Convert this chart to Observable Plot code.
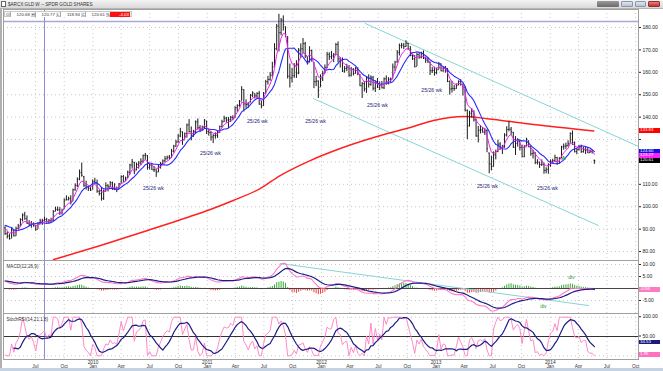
<!DOCTYPE html>
<html><head><meta charset="utf-8">
<script src="https://cdn.jsdelivr.net/npm/d3@7"></script>
<script src="https://cdn.jsdelivr.net/npm/@observablehq/plot@0.6"></script>
<style>
body{margin:0;background:#fff;}
#root{position:relative;width:663px;height:371px;overflow:hidden;background:#fff;font-family:"Liberation Sans",Arial,sans-serif;}
.abs{position:absolute;}
.lg span{display:inline-block;height:5px;line-height:5px;vertical-align:top;}
</style></head>
<body><div id="root"></div>
<script>
// ---------------- DATA ----------------
const warmupCloses = [79.5,74.0,85.0,86.7,81.0,83.5,76.6,71.5,70.8,72.9,72.4,78.0,79.6,73.8,80.6,83.4,85.6,86.5,83.0,82.2,88.0,90.1,89.5,92.3,97.8,92.0,92.2,91.0,93.2,90.6];
const firstWeek = "2009-03-26";
const closes = [
88.0,86.9,85.7,89.6,87.0,90.2,91.4,94.3,96.3,94.6,
92.6,91.9,92.5,91.5,89.9,92.4,93.6,93.9,94.3,93.3,
93.9,93.8,97.9,98.8,98.6,97.3,98.4,103.0,103.1,103.6,
102.0,107.6,109.5,112.3,115.2,114.0,109.6,108.8,108.3,107.3,
111.4,110.7,106.9,105.9,103.8,106.9,109.4,108.9,110.7,107.9,
108.1,107.8,110.2,113.5,111.4,112.9,115.4,118.6,120.2,115.8,
118.9,119.5,120.3,122.8,123.1,117.6,118.6,116.5,116.5,115.5,
117.8,119.2,120.5,121.4,122.1,121.9,124.8,127.1,128.9,131.6,
133.6,129.5,132.6,136.5,133.5,131.9,133.0,137.9,135.3,134.6,
135.4,138.7,133.6,133.1,131.1,131.8,131.9,133.2,135.9,137.9,
139.5,138.7,138.8,139.9,139.6,144.2,145.2,147.0,152.4,145.9,
145.6,146.1,149.7,150.9,149.5,150.6,145.8,145.1,150.6,155.8,
156.8,158.7,162.4,170.6,180.6,177.7,183.3,181.3,176.9,158.3,
157.5,158.5,163.1,159.7,169.9,170.5,172.8,167.4,164.0,169.7,
166.1,155.8,156.1,152.0,157.1,159.5,162.2,168.0,167.0,167.3,
167.9,172.4,166.0,165.2,160.6,161.7,162.1,158.7,161.4,159.5,
161.6,159.2,154.0,154.9,152.6,157.4,154.6,157.8,152.9,155.9,
153.3,154.3,153.1,157.1,155.7,156.9,156.8,162.4,164.6,168.9,
171.9,172.1,171.5,173.0,170.4,167.5,166.0,162.5,167.9,166.7,
168.5,166.3,165.5,164.6,160.7,160.9,159.9,161.2,163.8,160.7,
161.7,161.5,155.9,152.6,152.8,152.7,154.2,155.9,154.6,153.3,
143.1,136.1,141.7,142.5,138.8,131.6,134.1,134.3,133.3,134.0,
125.9,119.1,117.9,123.2,124.7,128.0,126.3,126.5,132.0,134.5,
134.6,133.5,126.6,128.3,129.2,126.5,122.3,126.7,130.1,126.7,
123.7,124.0,119.8,120.0,118.8,119.0,116.2,116.7,118.8,120.3,
120.6,122.0,119.3,121.6,126.7,127.0,127.3,128.1,132.7,128.7,
124.6,125.5,126.8,124.6,125.4,125.3,124.1,124.6,124.6,120.61];
const highs = [
91.0,88.8,87.6,90.6,89.8,90.9,92.1,94.6,96.8,97.5,
95.9,93.8,93.4,92.8,91.8,92.8,94.4,94.4,95.3,94.8,
94.3,94.9,98.3,99.8,99.9,99.6,98.9,103.5,104.9,104.3,
104.9,107.9,110.2,112.9,116.4,119.5,113.5,111.4,109.0,108.8,
112.0,112.7,111.9,107.3,108.5,107.4,110.7,109.8,111.2,111.0,
110.3,108.8,110.4,113.8,113.9,113.2,115.9,119.0,121.1,119.8,
119.5,120.1,121.4,123.1,123.8,122.8,119.3,118.9,117.9,116.5,
118.6,119.8,120.9,122.4,122.6,122.9,125.6,127.4,129.6,132.2,
135.0,133.4,132.9,136.9,138.9,135.6,134.1,138.3,139.2,136.2,
136.0,138.9,138.2,134.5,133.4,132.2,133.0,133.6,136.0,138.6,
140.4,139.9,139.8,140.3,140.6,144.6,145.5,147.4,153.6,152.2,
147.7,146.5,150.1,151.3,150.4,150.9,151.5,147.0,151.0,156.4,
158.2,159.9,164.5,172.8,181.4,185.9,184.0,185.2,180.3,175.9,
163.7,161.8,163.9,165.2,170.6,172.7,175.1,173.4,166.9,171.4,
169.9,164.4,158.2,156.2,158.9,160.5,163.3,168.9,168.7,169.3,
168.4,172.9,173.6,166.6,166.4,162.6,163.6,163.0,162.2,161.6,
162.1,162.1,159.0,155.4,155.8,157.8,158.9,158.4,158.1,156.2,
157.2,155.7,155.9,157.5,158.4,157.6,157.4,163.7,164.9,169.7,
172.6,172.9,172.9,174.1,172.9,171.5,167.8,167.5,168.6,168.8,
169.0,169.5,166.8,166.7,164.6,162.1,162.3,161.9,164.4,163.8,
162.5,162.6,161.6,156.2,155.9,154.1,154.8,156.2,156.7,154.8,
153.6,143.2,142.6,143.8,142.8,139.1,135.8,136.2,135.4,135.0,
134.4,124.0,122.6,124.5,125.3,129.7,128.6,127.4,132.6,135.7,
138.1,135.4,133.2,131.3,130.4,129.6,127.5,127.3,130.6,129.4,
127.1,125.2,124.1,121.0,119.9,120.9,119.5,117.4,119.2,120.9,
121.2,123.0,122.0,121.9,127.0,128.0,128.4,129.4,133.0,133.8,
128.9,125.9,127.4,127.5,126.5,126.7,126.4,125.3,125.1,120.77];
const lows = [
87.2,85.6,85.1,85.8,86.5,86.8,89.7,91.0,93.2,94.0,
92.1,91.2,90.4,90.9,89.0,89.9,91.9,91.7,93.5,92.7,
92.2,92.9,93.4,97.7,97.9,96.1,96.3,98.9,102.7,102.6,
100.8,102.4,106.9,108.6,111.6,113.2,108.6,107.4,106.8,106.8,
107.6,110.0,106.0,104.8,102.5,102.8,106.6,106.6,108.6,107.3,
107.2,106.3,107.6,110.1,110.9,111.3,112.5,114.2,116.8,114.3,
116.1,116.8,118.3,119.5,120.7,116.3,116.4,116.2,115.3,113.1,
115.2,116.8,118.8,119.6,120.8,120.9,121.6,124.0,126.5,128.3,
130.8,127.4,129.8,130.6,133.0,129.4,131.0,132.6,134.3,133.1,
134.1,134.7,132.2,131.5,129.3,128.2,130.2,130.5,132.8,135.1,
137.6,137.3,134.9,137.6,138.4,139.5,142.1,144.4,147.1,142.3,
143.7,143.9,146.4,148.7,148.1,148.3,145.3,143.7,144.9,150.2,
154.3,156.0,157.8,162.3,169.6,169.1,176.3,178.4,175.5,157.0,
153.0,155.2,157.3,157.3,158.9,166.2,168.3,166.1,163.2,164.3,
164.5,152.7,153.6,148.3,153.3,155.9,159.4,161.6,165.3,165.6,
164.3,167.6,164.2,161.9,159.9,159.6,160.3,157.8,157.9,158.4,
159.2,158.5,153.6,148.3,151.2,150.6,153.0,153.8,151.7,151.0,
152.8,151.9,152.6,152.3,154.2,154.4,155.3,157.0,160.3,164.1,
167.3,170.5,170.2,171.1,170.0,167.0,165.3,162.0,162.6,165.8,
166.0,165.7,164.0,164.0,158.6,159.5,158.3,158.9,161.1,160.2,
160.0,159.6,155.4,149.8,150.7,151.5,152.4,154.1,153.8,149.4,
142.3,130.0,135.6,139.6,137.8,131.0,128.5,132.5,132.8,131.8,
124.1,114.7,116.0,117.7,120.9,124.1,125.2,123.3,126.2,131.1,
133.4,131.9,126.0,122.9,126.6,124.9,122.0,121.9,126.7,126.4,
122.5,121.3,118.8,118.6,117.1,118.0,114.5,114.7,114.5,117.6,
118.9,119.9,118.5,119.1,121.5,125.2,125.6,126.6,128.3,127.4,
124.0,123.2,124.8,123.8,123.9,123.3,123.7,123.8,123.5,118.94];

// long moving average (red)
const longMADates  = ["2009-08-28","2010-01-25","2010-07-03","2010-10-29","2011-01-11","2011-03-25","2011-06-19","2011-08-22","2011-11-26","2012-03-01","2012-07-30","2012-10-11","2012-12-24","2013-03-30","2013-06-14","2013-11-08","2014-05-20"];
const longMAValues = [76.4,82.7,89.8,95.2,98.8,102.8,108.1,113.9,120.6,126.0,132.7,135.4,138.5,140.3,139.3,136.7,133.83];

// trend lines
const upperChannelDates = ["2012-05-20","2014-10-10"], upperChannelValues = [181.8,126.9];
const lowerChannelDates = ["2011-12-06","2014-06-04"], lowerChannelValues = [148.3,91.6];
const macdTrendDates = ["2011-08-22","2014-05-03"], macdTrendValues = [10.4,-7.1];
const markerDate = "2009-07-30";
const levelLine = 182.7;

// annotations
const waveLabelDates  = ["2010-07-13","2011-01-11","2011-06-10","2011-12-13","2012-06-28","2012-12-18","2013-06-14","2013-12-23"];
const waveLabelPrices = [108.1,123.75,138.0,138.0,145.1,151.8,109.0,108.1];
const waveLabelText = "25/26 wk";
const signalLabelDate = "2014-02-12", signalLabelPrice = 121.9, signalLabelText = "A";
const divLabelDates = ["2014-03-10","2013-12-10"], divLabelValues = [4.6,-7.5];

// axes (labels hidden behind value tags in the reference are left out)
const priceTicks = [80,90,100,110,120,130,140,150,160,170,180];
const priceTickLabels = [80,90,100,110,140,150,160,170,180];
const macdTicks = [-5,5,10];
const stochTicks = [50,100];
const dateTicks = ["2009-07-01","2009-10-01","2010-01-01","2010-04-01","2010-07-01","2010-10-01","2011-01-01","2011-04-01","2011-07-01","2011-10-01","2012-01-01","2012-04-01","2012-07-01","2012-10-01","2013-01-01","2013-04-01","2013-07-01","2013-10-01","2014-01-01","2014-04-01","2014-07-01","2014-10-01"];
const dateTickLabels = ["Jul","Oct","2010\nJan","Apr","Jul","Oct","2011\nJan","Apr","Jul","Oct","2012\nJan","Apr","Jul","Oct","2013\nJan","Apr","Jul","Oct","2014\nJan","Apr","Jul","Oct"];
const xDomain = ["2009-03-21","2014-10-10"];

// right-edge value tags
const priceTagValues = [133.83,124.60,123.27,120.61];
const priceTagColors = ["#ff0000","#1010e0","#ff20ff","#000000"];
const stochTagValues = [34.53,1.95];
const stochTagColors = ["#1a1a80","#ff70c0"];
const title = "$ARCX:GLD W -- SPDR GOLD SHARES";
const legendNames = ["O","H","L","C"];
const legendValues = ["120.68","120.77","118.94","120.61"];
const legendChange = "-4.03";

// ---------------- BUILD ----------------
const DAY = 864e5;
const P = s => new Date(s + "T00:00:00Z");
const t0 = P(firstWeek);
const W = warmupCloses.length;
const all = warmupCloses.concat(closes);

function sma(a,n){return a.map((_,i)=> i<n-1 ? NaN : d3.mean(a.slice(i-n+1,i+1)));}
function ema(a,n){const k=2/(n+1);let p=a[0];return a.map((v,i)=> (p = i===0 ? v : v*k + p*(1-k)));}
function rsi(a,n){const out=a.map(()=>NaN);let g=0,l=0;
  for(let i=1;i<=n;i++){const d=a[i]-a[i-1]; if(d>0) g+=d; else l-=d;}
  g/=n; l/=n; out[n]=100-100/(1+g/Math.max(l,1e-9));
  for(let i=n+1;i<a.length;i++){const d=a[i]-a[i-1]; g=(g*(n-1)+Math.max(d,0))/n; l=(l*(n-1)+Math.max(-d,0))/n; out[i]=100-100/(1+g/Math.max(l,1e-9));}
  return out;}

const sma10 = sma(all,10), ema5 = ema(all,5);
const e12 = ema(all,12), e26 = ema(all,26);
const macdAll = all.map((_,i)=>e12[i]-e26[i]);
const sigAll = ema(macdAll,9);
const r = rsi(all,14);
const stochAll = r.map((v,i)=>{ if(i<27) return NaN; const w=r.slice(i-13,i+1); const lo=d3.min(w), hi=d3.max(w); return hi-lo<1e-9?50:(v-lo)/(hi-lo)*100;});
const stochSig = stochAll.map((_,i)=>{const w=stochAll.slice(Math.max(0,i-7),i+1); return w.length<8||w.some(isNaN)?NaN:d3.mean(w);});

const bars = closes.map((c,i)=>{
  const prev = all[W+i-1];
  const date = new Date(+t0 + i*7*DAY);
  return {date, dL:new Date(+date-3*DAY), dR:new Date(+date+3*DAY), close:c, high:highs[i], low:lows[i],
    open: Math.min(highs[i], Math.max(lows[i], prev)),
    blue: sma10[W+i], pink: ema5[W+i], macd: macdAll[W+i], sig: sigAll[W+i], hist: macdAll[W+i]-sigAll[W+i],
    st: stochAll[W+i], stS: stochSig[W+i]};
});
const longMA = longMADates.map((d,i)=>({date:P(d), v:longMAValues[i]}));
const upper = upperChannelDates.map((d,i)=>({date:P(d), v:upperChannelValues[i]}));
const lower = lowerChannelDates.map((d,i)=>({date:P(d), v:lowerChannelValues[i]}));
const mTrend = macdTrendDates.map((d,i)=>({date:P(d), v:macdTrendValues[i]}));
const waves = waveLabelDates.map((d,i)=>({date:P(d), v:waveLabelPrices[i]}));
const divs = divLabelDates.map((d,i)=>({date:P(d), v:divLabelValues[i]}));
const dTicks = dateTicks.map(P);

const FONT = '"Liberation Sans", Arial, sans-serif';
const X = {type:"utc", domain:xDomain.map(P), axis:null};
const common = {width:663, marginLeft:3, marginRight:25, marginTop:0,
  style:{fontFamily:FONT, fontSize:"5px", background:"transparent", overflow:"visible", color:"#222"}};
const grid = dTicks;
const teal = "#88d4d4";
const tickFmt = d => d.toFixed(2);

const root = document.getElementById("root");
function place(svg, top){const d=document.createElement("div"); d.className="abs"; d.style.left="0px"; d.style.top=top+"px"; d.appendChild(svg); root.appendChild(d);}

// price panel
const PT = 9;
const price = Plot.plot({...common, height:251, marginBottom:0, x:X,
  y:{domain:[76.0,188.04], axis:null},
  marks:[
    Plot.ruleY(priceTicks,{stroke:"#c8c8c8", strokeDasharray:"1,3"}),
    Plot.ruleX(grid,{stroke:"#c8c8c8", strokeDasharray:"1,3"}),
    Plot.ruleY([levelLine],{stroke:"#a8a8dc", strokeWidth:1.6}),
    Plot.ruleX([P(markerDate)],{stroke:"#8c8cdc", strokeWidth:1}),
    Plot.line(upper,{x:"date", y:"v", stroke:teal, strokeWidth:1, clip:true}),
    Plot.line(lower,{x:"date", y:"v", stroke:teal, strokeWidth:1, clip:true}),
    Plot.line(longMA,{x:"date", y:"v", stroke:"#ff2020", strokeWidth:1.5, curve:"monotone-x", clip:true}),
    Plot.ruleX(bars,{x:"date", y1:"low", y2:"high", stroke:"#1a1a1a", strokeWidth:1}),
    Plot.link(bars,{x1:"dL", x2:"date", y1:"open", y2:"open", stroke:"#1a1a1a", strokeWidth:0.8}),
    Plot.link(bars,{x1:"date", x2:"dR", y1:"close", y2:"close", stroke:"#1a1a1a", strokeWidth:0.8}),
    Plot.line(bars,{x:"date", y:"blue", stroke:"#2828ff", strokeWidth:1.1}),
    Plot.line(bars,{x:"date", y:"pink", stroke:"#f020f0", strokeWidth:1}),
    Plot.text(waves,{x:"date", y:"v", text:()=>waveLabelText, fill:"#23237a", fontSize:5.2}),
    Plot.text([signalLabelText],{x:()=>P(signalLabelDate), y:()=>signalLabelPrice, text:d=>d, fill:"#1a9a1a", fontSize:6, fontWeight:"bold"}),
    Plot.axisY({anchor:"right", ticks:priceTicks, tickFormat:d=>priceTickLabels.includes(d)?tickFmt(d):"", tickSize:2, tickPadding:2, fontSize:5, label:null, textAnchor:"start"}),
    Plot.frame({stroke:"#a0a0a0"})
  ]});
place(price, PT);

// MACD panel
const MT = 260;
const macd = Plot.plot({...common, height:53, marginBottom:0, x:X,
  y:{domain:[-10.42,11.67], axis:null},
  marks:[
    Plot.ruleY([-5,5,10],{stroke:"#c8c8c8", strokeDasharray:"1,3"}),
    Plot.ruleX(grid,{stroke:"#c8c8c8", strokeDasharray:"1,3"}),
    Plot.ruleX([P(markerDate)],{stroke:"#8c8cdc", strokeWidth:1}),
    Plot.ruleX(bars,{x:"date", y1:0, y2:"hist", stroke:d=>d.hist>=0?"#3aa83a":"#ff3a3a", strokeWidth:1}),
    Plot.ruleY([0],{stroke:"#444", strokeWidth:1}),
    Plot.line(mTrend,{x:"date", y:"v", stroke:teal, strokeWidth:1}),
    Plot.line(bars,{x:"date", y:"macd", stroke:"#ff7ac4", strokeWidth:1.1}),
    Plot.line(bars,{x:"date", y:"sig", stroke:"#1c1c88", strokeWidth:1.2}),
    Plot.text(divs,{x:"date", y:"v", text:()=>"div", fill:"#1a9a1a", fontSize:5}),
    Plot.text(["MACD(12,26,9)"],{frameAnchor:"top-left", dx:3, dy:4, text:d=>d, fill:"#333", fontSize:4.6}),
    Plot.axisY({anchor:"right", ticks:macdTicks, tickFormat:tickFmt, tickSize:2, tickPadding:2, fontSize:5, label:null, textAnchor:"start"}),
    Plot.frame({stroke:"#a0a0a0"})
  ]});
place(macd, MT);

// StochRSI panel + date axis
const ST = 313;
const stoch = Plot.plot({...common, height:58, marginBottom:12, x:X,
  y:{domain:[-9.6,109.6], axis:null},
  marks:[
    Plot.ruleY([0,100],{stroke:"#c8c8c8", strokeDasharray:"1,3"}),
    Plot.ruleX(grid,{stroke:"#c8c8c8", strokeDasharray:"1,3"}),
    Plot.ruleX([P(markerDate)],{stroke:"#8c8cdc", strokeWidth:1}),
    Plot.ruleY([50],{stroke:"#333", strokeWidth:1}),
    Plot.line(bars,{x:"date", y:"st", stroke:"#ff8ac8", strokeWidth:1}),
    Plot.line(bars,{x:"date", y:"stS", stroke:"#1c1c88", strokeWidth:1.2}),
    Plot.text(["StochRSI(14,21,1,8)"],{frameAnchor:"top-left", dx:3, dy:4, text:d=>d, fill:"#333", fontSize:4.6}),
    Plot.axisY({anchor:"right", ticks:stochTicks, tickFormat:tickFmt, tickSize:2, tickPadding:2, fontSize:5, label:null, textAnchor:"start", dy:-0.5}),
    Plot.text(dTicks,{x:d=>d, text:(d,i)=>dateTickLabels[i], frameAnchor:"bottom", dy:8.5, lineAnchor:"bottom", lineHeight:0.8, fontSize:4.8, fill:"#333"}),
    Plot.frame({stroke:"#a0a0a0"})
  ]});
place(stoch, ST);

// right-edge value tags (stacked so they do not cover each other)
const TH = 4.6;
let lastBottom = -1e9;
function tag(y, text, bg, fg){
  let top = y - TH/2; if (top < lastBottom) top = lastBottom; lastBottom = top + TH;
  const d=document.createElement("div"); d.className="abs";
  d.style.cssText=`left:639px;top:${top.toFixed(1)}px;width:21px;height:${TH}px;background:${bg};color:${fg};font-size:4.4px;line-height:${TH}px;padding-left:1px;box-sizing:border-box;white-space:nowrap;overflow:hidden;`;
  d.textContent=text; root.appendChild(d);}
const py = price.scale("y");
priceTagValues.forEach((v,i)=>tag(PT+py.apply(v), v.toFixed(2), priceTagColors[i], "#fff"));
const my = macd.scale("y");
const lastMacd = bars[bars.length-1].macd;
lastBottom = -1e9;
tag(MT+my.apply(lastMacd), lastMacd.toFixed(2), "#ff7ac4", "#fff");
const sy = stoch.scale("y");
lastBottom = -1e9;
stochTagValues.forEach((v,i)=>tag(ST+sy.apply(v), v.toFixed(2), stochTagColors[i], "#fff"));

// window chrome: title bar, legend row, borders
const tb=document.createElement("div"); tb.className="abs";
tb.style.cssText="left:0;top:0;width:663px;height:9px;background:linear-gradient(#f4f4f4,#d9d9d9);border-bottom:1px solid #b4b4b4;box-sizing:border-box;";
tb.innerHTML=`<div class="abs" style="left:1px;top:1px;width:5px;height:6px;border:1px solid #666;background:#fff;box-sizing:border-box"></div>
<div class="abs" style="left:8px;top:1.5px;font-size:4.6px;line-height:5px;color:#333;white-space:nowrap">${title}</div>
<div class="abs" style="left:597px;top:1px;width:22px;height:6px;background:linear-gradient(#9a9a9a,#6a6a6a);border-radius:1px"></div>
<div class="abs" style="left:621px;top:1px;width:12px;height:6px;background:linear-gradient(#dfe6ef,#b8c4d4);border:1px solid #8a96a8;box-sizing:border-box;border-radius:1px"></div>
<div class="abs" style="left:635px;top:1px;width:11px;height:6px;background:linear-gradient(#dfe6ef,#b8c4d4);border:1px solid #8a96a8;box-sizing:border-box;border-radius:1px"></div>
<div class="abs" style="left:648px;top:1px;width:12px;height:6px;background:linear-gradient(#f08080,#c83030);border:1px solid #903030;box-sizing:border-box;border-radius:1px"></div>`;
root.appendChild(tb);
const lg=document.createElement("div"); lg.className="abs lg";
lg.style.cssText="left:4px;top:11px;height:6px;background:#f4f4f4;border:1px solid #c8c8c8;box-sizing:border-box;font-size:4.4px;color:#333;white-space:nowrap;padding:0 1px;";
lg.innerHTML = legendNames.map((n,i)=>`<span style="width:4px;text-align:center;border-right:1px solid #aaa">${n}</span><span style="width:19px;text-align:right;background:#fff;padding-right:1px">${legendValues[i]}</span>`).join("")
 + `<span style="width:4px;text-align:center">%</span><span style="width:19px;text-align:right;background:#ff1010;color:#fff;padding-right:1px">${legendChange}</span>`;
root.appendChild(lg);
const lb=document.createElement("div"); lb.className="abs"; lb.style.cssText="left:0;top:9px;width:2px;height:362px;background:#b0b0b0;"; root.appendChild(lb);
const bb=document.createElement("div"); bb.className="abs"; bb.style.cssText="left:0;top:368px;width:663px;height:3px;background:#c4d2e2;"; root.appendChild(bb);
</script></body></html>
